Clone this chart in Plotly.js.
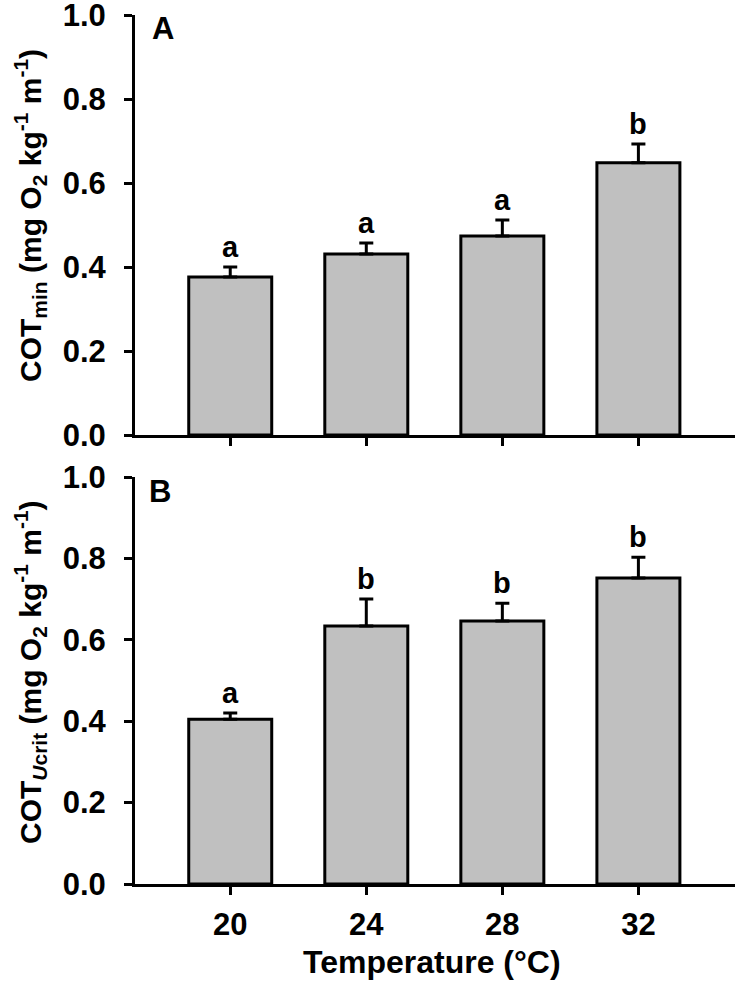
<!DOCTYPE html>
<html>
<head>
<meta charset="utf-8">
<script src="https://cdn.plot.ly/plotly-3.0.1.min.js"></script>
<style>
  html, body { margin: 0; padding: 0; background: #fff; }
  #chart { width: 739px; height: 1000px; }
</style>
</head>
<body>
<div id="chart"></div>
<script>
// temperatures (x categories)
const temps = ["20", "24", "28", "32"];

// panel A: COT min
const cotMin = [0.376, 0.431, 0.474, 0.648];
const cotMinErr = [0.024, 0.026, 0.038, 0.045];
const cotMinLetters = ["a", "a", "a", "b"];

// panel B: COT Ucrit
const cotUcrit = [0.405, 0.634, 0.646, 0.752];
const cotUcritErr = [0.015, 0.066, 0.044, 0.051];
const cotUcritLetters = ["a", "b", "b", "b"];

const FONT = "Arial, 'Liberation Sans', sans-serif";

function barTrace(vals, errs, xa, ya) {
  return {
    type: "bar",
    x: temps,
    y: vals,
    xaxis: xa,
    yaxis: ya,
    width: 0.61,
    marker: { color: "#c0c0c0", line: { color: "#000", width: 3 } },
    error_y: {
      type: "data",
      symmetric: false,
      array: errs,
      arrayminus: errs.map(() => 0),
      color: "#000",
      thickness: 3,
      width: 7
    },
    hoverinfo: "skip",
    showlegend: false
  };
}

var data = [
  barTrace(cotMin, cotMinErr, "x", "y"),
  barTrace(cotUcrit, cotUcritErr, "x2", "y2")
];

function xAxis(showLabels, anchor) {
  return {
    type: "category",
    domain: [135 / 739, 735 / 739],
    range: [-0.7, 3.71],
    anchor: anchor,
    showline: true,
    linecolor: "#000",
    linewidth: 3,
    ticks: "outside",
    ticklen: 8,
    tickwidth: 3,
    tickcolor: "#000",
    showgrid: false,
    zeroline: false,
    showticklabels: showLabels,
    ticklabelstandoff: 3,
    tickfont: { family: FONT, size: 31, color: "#000", weight: "bold" },
    fixedrange: true
  };
}

function yAxis(domain, anchor) {
  return {
    domain: domain,
    range: [0, 1.0],
    anchor: anchor,
    tickvals: [0, 0.2, 0.4, 0.6, 0.8, 1.0],
    ticktext: ["0.0", "0.2", "0.4", "0.6", "0.8", "1.0"],
    showline: true,
    linecolor: "#000",
    linewidth: 3,
    ticks: "outside",
    ticklen: 8,
    tickwidth: 3,
    tickcolor: "#000",
    showgrid: false,
    zeroline: false,
    ticklabelstandoff: 12,
    ticklabeloverflow: "allow",
    tickfont: { family: FONT, size: 31, color: "#000", weight: "bold" },
    fixedrange: true
  };
}

// significance letters above error bars (x by category index)
var annotations = [];
temps.forEach(function (t, i) {
  annotations.push({
    xref: "x", yref: "y", x: i, y: cotMin[i] + cotMinErr[i],
    text: "<b>" + cotMinLetters[i] + "</b>", showarrow: false,
    xanchor: "center", yanchor: "bottom", yshift: 2,
    font: { family: FONT, size: 29, color: "#000" }
  });
  annotations.push({
    xref: "x2", yref: "y2", x: i, y: cotUcrit[i] + cotUcritErr[i],
    text: "<b>" + cotUcritLetters[i] + "</b>", showarrow: false,
    xanchor: "center", yanchor: "bottom", yshift: 2,
    font: { family: FONT, size: 29, color: "#000" }
  });
});

function paperText(x, y, text, size, angle) {
  return {
    xref: "paper", yref: "paper", x: x / 739, y: 1 - y / 1000,
    xanchor: "center", yanchor: "middle", textangle: angle || 0,
    text: text, showarrow: false,
    font: { family: FONT, size: size, color: "#000" }
  };
}

// panel letters, axis titles
annotations.push(
  paperText(163, 28, "<b>A</b>", 31),
  paperText(160, 491, "<b>B</b>", 31),
  paperText(30, 216, "<b>COT<sub>min</sub> (mg O<sub>2</sub> kg<sup>-1</sup> m<sup>-1</sup>)</b>", 30, -90),
  paperText(30, 672, "<b>COT<sub><i>U</i>crit</sub> (mg O<sub>2</sub> kg<sup>-1</sup> m<sup>-1</sup>)</b>", 30, -90),
  paperText(432, 962, "<b>Temperature (°C)</b>", 32)
);

var layout = {
  width: 739,
  height: 1000,
  margin: { l: 0, r: 0, t: 0, b: 0 },
  paper_bgcolor: "#fff",
  plot_bgcolor: "#fff",
  bargap: 0,
  xaxis: xAxis(false, "y"),
  yaxis: yAxis([1 - 435 / 1000, 1 - 15 / 1000], "x"),
  xaxis2: xAxis(true, "y2"),
  yaxis2: yAxis([1 - 884 / 1000, 1 - 477 / 1000], "x2"),
  annotations: annotations
};

Plotly.newPlot("chart", data, layout, { displayModeBar: false, staticPlot: true });
</script>
</body>
</html>
